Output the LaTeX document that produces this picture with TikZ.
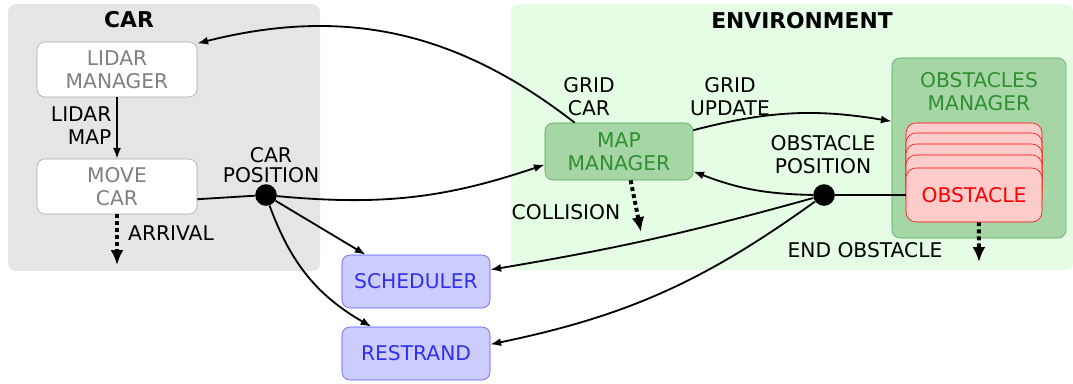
\documentclass[tikz,border=0pt]{standalone}
\usepackage{fontspec}
\setmainfont{DejaVu Sans}
\usetikzlibrary{arrows.meta}
\definecolor{envbg}{HTML}{E5FDE5}
\definecolor{mgrfill}{HTML}{A6D5A6}
\definecolor{mgrdraw}{HTML}{55A855}
\definecolor{mgrtext}{HTML}{309030}
\definecolor{obsfill}{HTML}{FFCCCC}
\definecolor{outfill}{HTML}{CCCCFF}
\definecolor{outdraw}{HTML}{5050FF}
\definecolor{outtext}{HTML}{3030F0}
\tikzstyle{line} = [draw, -{Latex[length=2.7mm,width=2mm]}, line width=1.3pt]

\begin{document}
\begin{tikzpicture}[x=0.025cm, y=0.025cm, font=\fontsize{14.4}{16.5}\selectfont,
   carmod/.style={rectangle, rounded corners=2mm, draw=gray!70, fill=white, text=gray,
     align=center, minimum width=4cm, minimum height=1.375cm},
   envmod/.style={rectangle, rounded corners=2mm, draw=mgrdraw, fill=mgrfill, text=mgrtext,
     align=center, minimum width=3.7cm, minimum height=1.425cm},
   obsmod/.style={rectangle, rounded corners=2.5mm, draw=red, fill=obsfill, text=red,
     minimum width=3.4cm, minimum height=1.35cm},
   outmod/.style={rectangle, rounded corners=2mm, draw=outdraw, fill=outfill, text=outtext,
     minimum width=3.7cm, minimum height=1.325cm},
   dot/.style={circle, fill=black, inner sep=0pt, minimum size=0.54cm},
   event/.style={draw, line width=2.8pt, dash pattern=on 2.8pt off 2.2pt,
     -{Latex[length=3.7mm,width=3.2mm]}},
   title/.style={font=\fontsize{15.5}{17}\selectfont\bfseries}]
\useasboundingbox (0,0) rectangle (1073,-383);

% panels
\fill[gray!20, rounded corners=2mm] (8,-4) rectangle (320,-271);
\fill[envbg, rounded corners=2mm] (511,-4) rectangle (1073,-270);
\node[title] (cartitle) at (129,-20) {CAR};
\node[title] (envtitle) at (802,-21) {ENVIRONMENT};

% car
\node[carmod] (lidar) at (117,-69.5) {LIDAR\\MANAGER};
\node[carmod] (move) at (117,-186.5) {MOVE\\CAR};
\node[dot] (cpos) at (266,-195) {};
\node[align=center, font=\fontsize{14.4}{14}\selectfont] (cposlabel) at (271,-165) {CAR\\POSITION};

% environment
\node[envmod] (map) at (619,-151.5) {MAP\\MANAGER};
\node[rectangle, rounded corners=2mm, draw=mgrdraw, fill=mgrfill,
  minimum width=4.35cm, minimum height=4.5cm] (obsmgr) at (979,-148) {};
\node[align=center, text=mgrtext] (obsmgrlabel) at (979,-92) {OBSTACLES\\MANAGER};
\foreach \t in {123,133,144,155}
  \node[obsmod] at (974,-\t-27) {};
\node[obsmod] (obstacle) at (974,-195) {OBSTACLE};
\node[dot] (opos) at (824,-195) {};
\node[align=center] (oposlabel) at (823,-155) {OBSTACLE\\POSITION};

% outputs
\node[outmod] (sched) at (416,-281.5) {SCHEDULER};
\node[outmod] (restrand) at (416,-353.5) {RESTRAND};

% event ends
\coordinate (arrivalend) at (117,-265);
\coordinate (collisionend) at (641,-232);
\coordinate (endobsend) at (979,-262);

\path[line]
	(lidar) -- node[left] (lidarmap) {\begin{tabular}{@{}r@{}}LIDAR\\MAP\end{tabular}} (move);
\draw[line width=1.3pt] (move.-9) -- (cpos);
\draw[line width=1.3pt] (obstacle.west) -- (opos);
\path
	(cpos) edge[line, bend right=12] (map.190)
	(cpos) edge[line] (sched.152)
	(cpos) edge[line, bend right=20] (restrand.149)
	(map.147) edge[line, bend right=26] (lidar.18)
	(map.16) edge[line, bend left=12] (obsmgr.163)
	(opos) edge[line, bend left=10] (map.-15)
	(opos) edge[line, bend left=3] (sched.9)
	(opos) edge[line, bend left=12] (restrand.7)
;
\node[align=center] (gridcar) at (589,-97) {GRID\\CAR};
\node[align=center] (gridupdate) at (730,-97) {GRID\\UPDATE};

\path[event] (move.south) -- (arrivalend);
\node (arrival) at (171,-233) {ARRIVAL};
\path[event] (map.-68) -- (collisionend);
\node (collision) at (566,-212) {COLLISION};
\path[event] (obstacle.-80) -- (endobsend);
\node (endobs) at (865,-250) {END OBSTACLE};

\end{tikzpicture}
\end{document}
